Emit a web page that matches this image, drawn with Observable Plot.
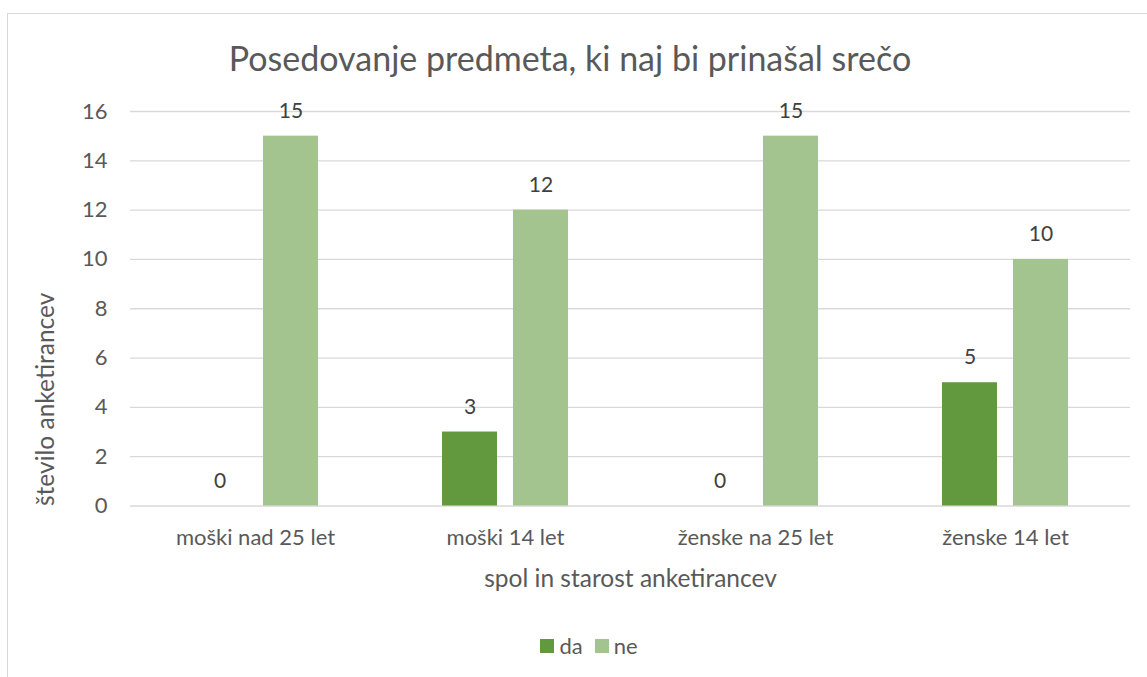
<!DOCTYPE html>
<html><head><meta charset="utf-8">
<script src="https://cdn.jsdelivr.net/npm/d3@7"></script>
<script src="https://cdn.jsdelivr.net/npm/@observablehq/plot@0.6"></script>
<style>
body{margin:0;background:#fff;font-family:Lato,sans-serif;overflow:hidden;}
#wrap{position:relative;width:1147px;height:677px;overflow:hidden;background:#fff;}
#frame{position:absolute;left:7px;top:13px;width:1300px;height:800px;border-top:1.3px solid #d9d9d9;border-left:1.3px solid #d9d9d9;box-sizing:border-box;}
#title{position:absolute;left:0;width:1140px;top:41px;text-align:center;font-size:34px;line-height:34px;color:#595959;white-space:nowrap;}
#chart{position:absolute;left:0;top:90px;}
#legend{position:absolute;top:634px;left:0;width:1178px;display:flex;justify-content:center;align-items:center;font-size:22px;color:#595959;line-height:24px;}
.sw{display:inline-block;width:14px;height:14px;margin-right:5px;}
.item{display:flex;align-items:center;margin:0 6px;}
</style>
</head><body>
<div id="wrap">
<div id="frame"></div>
<div id="title">Posedovanje predmeta, ki naj bi prinašal srečo</div>
<div id="chart"></div>
<div id="legend"></div>
</div>
<script>
const categories = ["moški nad 25 let", "moški 14 let", "ženske na 25 let", "ženske 14 let"];
const series = ["da", "ne"];
const daValues = [0, 3, 0, 5];
const neValues = [15, 12, 15, 10];
const yTicks = [0, 2, 4, 6, 8, 10, 12, 14, 16];
const colors = ["#62993e", "#a3c48f"];
const xTitle = "spol in starost anketirancev";
const yTitle = "število anketirancev";

const data = categories.flatMap((c, i) => [
  {cat: c, s: series[0], v: daValues[i]},
  {cat: c, s: series[1], v: neValues[i]}
]);

const chart = Plot.plot({
  width: 1147, height: 510,
  marginTop: 21, marginBottom: 94.5, marginLeft: 128, marginRight: 16,
  style: {fontFamily: "Lato, sans-serif", fontSize: "22px", color: "#595959", background: "transparent", overflow: "visible"},
  fx: {domain: categories, padding: 0},
  x: {domain: series, paddingInner: 0.2222, paddingOuter: 0.852, axis: null},
  y: {domain: [0, 16], ticks: yTicks},
  color: {domain: series, range: colors},
  marks: [
    Plot.ruleY(yTicks, {stroke: "#d9d9d9", strokeWidth: 1.3}),
    Plot.barY(data, {fx: "cat", x: "s", y: "v", fill: "s"}),
    Plot.text(data, {fx: "cat", x: "s", y: "v", text: d => String(d.v), dy: -25, lineAnchor: "middle", fill: "#404040", fontSize: 21}),
    Plot.axisY(yTicks, {tickSize: 0, tickPadding: 23, label: null, fontSize: 22, fill: "#595959"}),
    Plot.text([yTitle], {fx: () => categories[0], frameAnchor: "bottom-left", rotate: -90, textAnchor: "start", lineAnchor: "top", dx: -94, fontSize: 24.5, fill: "#595959"}),
    Plot.axisFx({anchor: "bottom", tickSize: 0, tickPadding: 23, label: null, fontSize: 22, fill: "#595959"}),
    Plot.axisFx({anchor: "bottom", tickSize: 0, ticks: [], label: xTitle, labelAnchor: "center", labelArrow: "none", labelOffset: 81, fontSize: 24.5, fill: "#595959"})
  ]
});
document.getElementById("chart").appendChild(chart);

const legend = document.getElementById("legend");
series.forEach((s, i) => {
  const item = document.createElement("span");
  item.className = "item";
  item.innerHTML = `<span class="sw" style="background:${colors[i]}"></span><span>${s}</span>`;
  legend.appendChild(item);
});
</script>
</body></html>
